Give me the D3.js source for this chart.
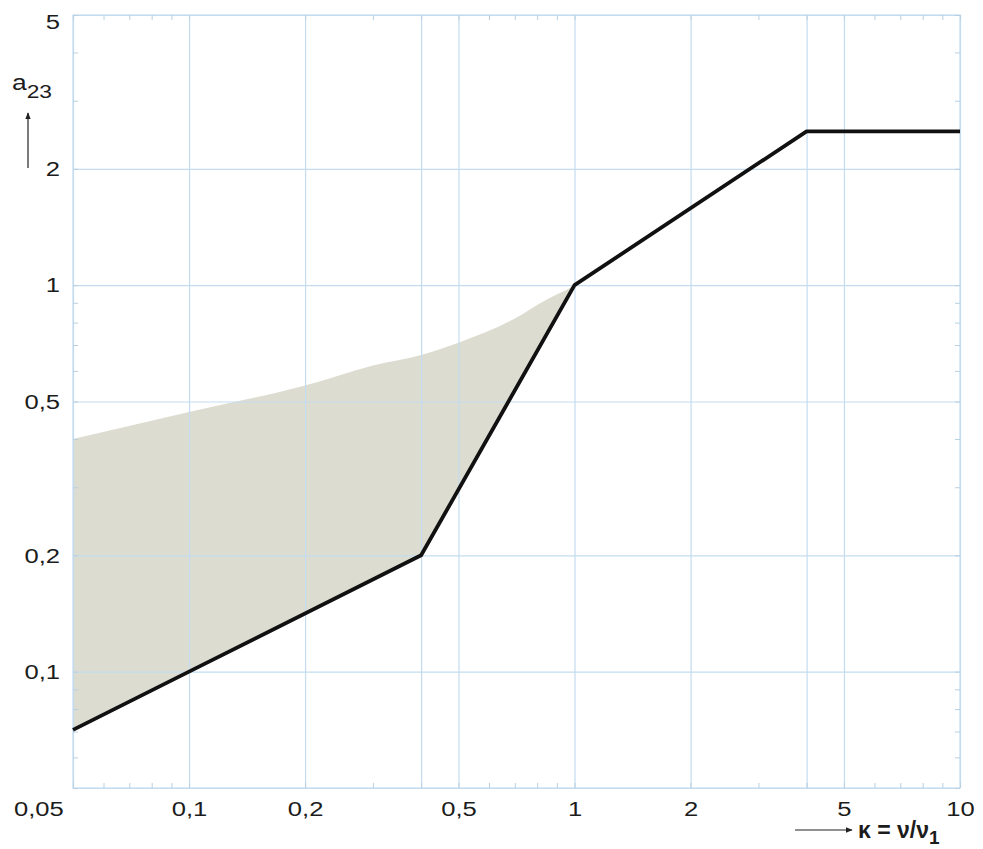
<!DOCTYPE html>
<html>
<head>
<meta charset="utf-8">
<script src="https://cdn.jsdelivr.net/npm/d3@7"></script>
<style>
  body { margin: 0; background: #fff; }
  text { font-family: "Liberation Sans", Arial, sans-serif; fill: #1c1c1c; }
</style>
</head>
<body>
<div id="chart"></div>
<script>
// tick values and labels (decimal comma as in the original)
const xTicks = [0.05, 0.1, 0.2, 0.5, 1, 2, 5, 10];
const xTickLabels = ['0,05', '0,1', '0,2', '0,5', '1', '2', '5', '10'];
const xExtraGrid = [0.4, 4];
const yTicks = [0.1, 0.2, 0.5, 1, 2, 5];
const yTickLabels = ['0,1', '0,2', '0,5', '1', '2', '5'];

// limit curve a23(kappa)
const limitKappa = [0.05, 0.1, 0.4, 1, 4, 10];
const limitA23 = [0.0707, 0.1, 0.2, 1, 2.5, 2.5];

// upper edge of the shaded band
const bandKappa = [0.05, 0.1, 0.2, 0.3, 0.4, 0.5, 0.7, 0.85, 0.95];
const bandUpper = [0.40, 0.47, 0.55, 0.62, 0.66, 0.71, 0.82, 0.92, 0.97];

const width = 983;
const height = 849;
const margin = { left: 73, right: 960, top: 15, bottom: 788 };
const stretch = 'scale(1.22,1)'; // the printed digits are wide

const svg = d3.select('#chart')
  .append('svg')
  .attr('width', width)
  .attr('height', height);

const x = d3.scaleLog().domain([0.05, 10]).range([margin.left, margin.right]);
const y = d3.scaleLog().domain([0.05, 5]).range([margin.bottom, margin.top]);

const gridColor = '#c3dcef';
const plotW = margin.right - margin.left;
const plotH = margin.bottom - margin.top;

// shaded band: upper edge, then back along the limit curve
const limitPts = limitKappa.map((k, i) => [k, limitA23[i]]);
const bandPts = bandKappa.map((k, i) => [k, bandUpper[i]])
  .concat(limitPts.filter(d => d[0] <= 1).reverse());

svg.append('path')
  .datum(bandPts)
  .attr('d', d3.line().curve(d3.curveMonotoneX).x(d => x(d[0])).y(d => y(d[1]))(bandPts.slice(0, bandKappa.length))
    + d3.line().x(d => x(d[0])).y(d => y(d[1]))(bandPts.slice(bandKappa.length)).replace('M', 'L') + 'Z')
  .attr('fill', '#dddcd1')
  .attr('stroke', 'none');

// grid lines
svg.append('g')
  .attr('transform', `translate(0,${margin.bottom})`)
  .call(d3.axisBottom(x).tickValues(xTicks.concat(xExtraGrid)).tickSize(-plotH).tickFormat(''))
  .call(g => g.select('.domain').remove())
  .selectAll('line').attr('stroke', gridColor).attr('stroke-width', 1.2);

svg.append('g')
  .attr('transform', `translate(${margin.left},0)`)
  .call(d3.axisLeft(y).tickValues([0.05].concat(yTicks)).tickSize(-plotW).tickFormat(''))
  .call(g => g.select('.domain').remove())
  .selectAll('line').attr('stroke', gridColor).attr('stroke-width', 1.2);

// frame
svg.append('rect')
  .attr('x', margin.left).attr('y', margin.top)
  .attr('width', plotW).attr('height', plotH)
  .attr('fill', 'none').attr('stroke', gridColor).attr('stroke-width', 1.2);

// minor ticks on all four edges
const minorX = x.ticks();
const minorY = y.ticks();
const minor = [
  [d3.axisBottom(x).tickValues(minorX), `translate(0,${margin.bottom})`],
  [d3.axisTop(x).tickValues(minorX), `translate(0,${margin.top})`],
  [d3.axisLeft(y).tickValues(minorY), `translate(${margin.left},0)`],
  [d3.axisRight(y).tickValues(minorY), `translate(${margin.right},0)`]
];
minor.forEach(([ax, tr]) => {
  svg.append('g')
    .attr('transform', tr)
    .call(ax.tickSize(-5).tickFormat(''))
    .call(g => g.select('.domain').remove())
    .selectAll('line').attr('stroke', '#b8d0e0').attr('stroke-width', 1);
});

// limit curve
svg.append('path')
  .datum(limitPts)
  .attr('d', d3.line().x(d => x(d[0])).y(d => y(d[1])))
  .attr('fill', 'none')
  .attr('stroke', '#111')
  .attr('stroke-width', 3.8)
  .attr('stroke-linejoin', 'round');

// x tick labels
const xLab = svg.append('g')
  .attr('transform', `translate(0,${margin.bottom})`)
  .call(d3.axisBottom(x).tickValues(xTicks).tickSize(0).tickPadding(13)
    .tickFormat((d, i) => xTickLabels[i]));
xLab.select('.domain').remove();
xLab.selectAll('text')
  .style('font-size', '21px')
  .style('font-family', '"Liberation Sans", Arial, sans-serif')
  .attr('fill', '#1c1c1c')
  .attr('transform', stretch)
  .filter((d, i) => i === 0)
  .attr('text-anchor', 'end')
  .attr('dx', -8);

// y tick labels
const yLab = svg.append('g')
  .attr('transform', `translate(${margin.left},0)`)
  .call(d3.axisLeft(y).tickValues(yTicks).tickSize(0)
    .tickFormat((d, i) => yTickLabels[i]));
yLab.select('.domain').remove();
yLab.selectAll('text')
  .style('font-size', '21px')
  .style('font-family', '"Liberation Sans", Arial, sans-serif')
  .attr('fill', '#1c1c1c')
  .attr('x', -10.6)
  .attr('transform', stretch)
  .filter(d => d === 5)
  .attr('dy', '0.62em');

// arrow marker
svg.append('defs').append('marker')
  .attr('id', 'arr')
  .attr('viewBox', '0 0 10 10')
  .attr('refX', 9).attr('refY', 5)
  .attr('markerWidth', 7).attr('markerHeight', 7)
  .attr('markerUnits', 'userSpaceOnUse')
  .attr('orient', 'auto')
  .append('path').attr('d', 'M0,1 L10,5 L0,9 Z').attr('fill', '#222');

// y axis title a23 with arrow
const yt = svg.append('text')
  .attr('transform', 'translate(12,90) scale(1.2,1)')
  .style('font-size', '22px');
yt.append('tspan').text('a');
yt.append('tspan').attr('dy', 8).style('font-size', '19px').text('23');
svg.append('line')
  .attr('x1', 28).attr('y1', 168).attr('x2', 28).attr('y2', 113)
  .attr('stroke', '#222').attr('stroke-width', 1.2)
  .attr('marker-end', 'url(#arr)');

// x axis title kappa = nu/nu1 with arrow
svg.append('line')
  .attr('x1', 795).attr('y1', 830).attr('x2', 852).attr('y2', 830)
  .attr('stroke', '#222').attr('stroke-width', 1.2)
  .attr('marker-end', 'url(#arr)');
const xt = svg.append('text').attr('x', 858).attr('y', 838)
  .style('font-size', '23px').style('font-weight', 'bold');
xt.append('tspan').text('κ = ν/ν');
xt.append('tspan').attr('dy', 6).style('font-size', '19px').text('1');
</script>
</body>
</html>
